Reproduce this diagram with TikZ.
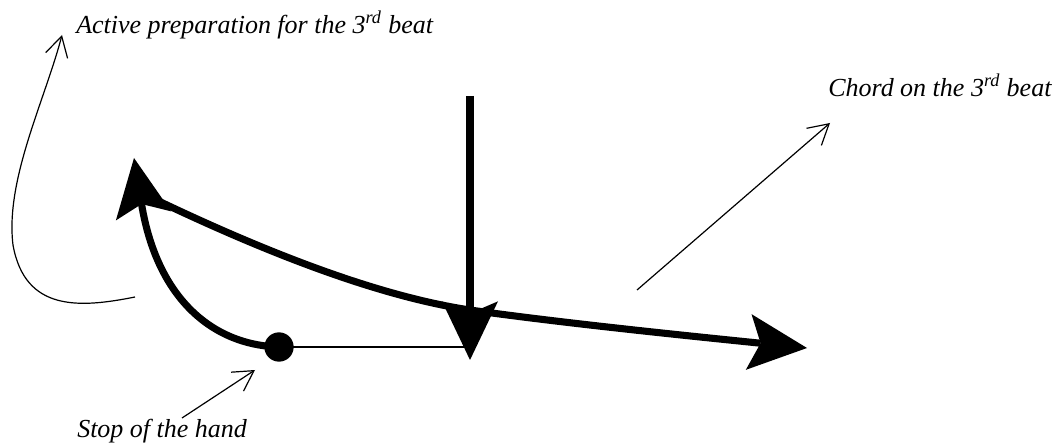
\documentclass[tikz,border=0pt]{standalone}
\usepackage{fontspec}
\setmainfont{Liberation Serif}
\usetikzlibrary{arrows.meta, positioning}
\tikzset{
    stroke/.style={line width=5.3pt},
    bigtip/.style={-{Stealth[length=44pt, width=42pt, inset=9pt, line width=0pt]}},
    hint/.style={line width=0.9pt, -{Straight Barb[length=15pt, width=17pt]}},
    cue/.style={font=\fontsize{19.5}{23}\selectfont\itshape, inner sep=0pt, anchor=base west}
}

\begin{document}
\begin{tikzpicture}[x=0.75pt, y=-0.75pt]
        \useasboundingbox (0,0) rectangle (1057,445);
        \node[cue] (prep) at (76,34) {Active preparation for the 3\textsuperscript{rd} beat};
        \node[cue] (chord) at (828,97) {Chord on the 3\textsuperscript{rd} beat};
        \node[cue] (stop) at (77,437) {Stop of the hand};
        \node[circle, fill, minimum size=22pt, inner sep=0pt] (halt) at (279,347) {};
        \coordinate (turn) at (134,158);
        \coordinate (launch) at (148,196);
        \coordinate (fall) at (470,310);
        \coordinate (goal) at (807,348);
        \coordinate (top) at (470,96);
        \coordinate (ictus) at (470,360);
        \coordinate (hookfoot) at (135,297);
        \coordinate (hookbend) at (13,245);
        \coordinate (preptip) at (62,35);
        \coordinate (stopfoot) at (182,418);
        \coordinate (stoptip) at (255,370);
        \coordinate (chordfoot) at (637,290);
        \coordinate (chordtip) at (830,123);
        \draw[line width=1pt] (halt.center) -- (halt -| ictus);
        \draw[stroke, bigtip] (halt.center) .. controls (212,345) and (157,298) .. (turn);
        \draw[stroke, bigtip] (launch) .. controls (250,245) and (370,295) .. (fall)
            .. controls (570,324) and (700,337) .. (goal);
        \draw[line width=6pt, bigtip] (top) -- (ictus);
        \draw[hint] (hookfoot) .. controls (80,308) and (25,312) .. (hookbend)
            .. controls (5,180) and (45,100) .. (preptip);
        \draw[hint] (stopfoot) -- (stoptip);
        \draw[hint] (chordfoot) -- (chordtip);
    \end{tikzpicture}
\end{document}
